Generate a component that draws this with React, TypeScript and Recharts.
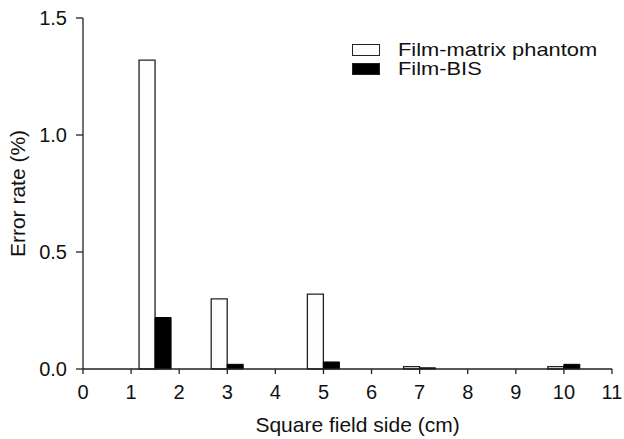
import { BarChart, Bar, XAxis, YAxis, Legend } from "recharts"

// field sides (cm) and error rates (%)
const fieldSides = [1.5, 3, 5, 7, 10]
const matrixPhantom = [1.32, 0.3, 0.32, 0.01, 0.01]
const filmBis = [0.22, 0.02, 0.03, 0.005, 0.02]

const xTicks = [0, 1, 2, 3, 4, 5, 6, 7, 8, 9, 10, 11]
const yTicks = [0, 0.5, 1.0, 1.5]
const seriesOrder = ["phantom", "bis"]

const data = fieldSides.map((side, i) => ({
  side,
  phantom: matrixPhantom[i],
  bis: filmBis[i],
}))

const FONT = "'Liberation Sans', Arial, Helvetica, sans-serif"
const INK = "#222"

// eslint-disable-next-line @typescript-eslint/no-explicit-any
function ChartLegend({ payload }: any) {
  const items = [...(payload ?? [])].sort(
    (a: { dataKey: string }, b: { dataKey: string }) =>
      seriesOrder.indexOf(a.dataKey) - seriesOrder.indexOf(b.dataKey)
  )
  return (
    <div style={{ fontFamily: FONT, fontSize: 19, color: "#111" }}>
      {items.map((p: { value: string; dataKey: string }) => (
        <div
          key={p.value}
          style={{ display: "flex", alignItems: "center", height: 19, lineHeight: "19px" }}
        >
          <span
            style={{
              display: "inline-block",
              width: 28,
              height: 12,
              boxSizing: "border-box",
              border: `1.3px solid ${INK}`,
              background: p.dataKey === "bis" ? "#000" : "#fdfdfd",
              marginRight: 18,
              flex: "none",
            }}
          />
          <span
            style={{
              display: "inline-block",
              transform: "scaleX(1.15)",
              transformOrigin: "left center",
              whiteSpace: "nowrap",
            }}
          >
            {p.value}
          </span>
        </div>
      ))}
    </div>
  )
}

export default function App() {
  return (
    <div style={{ position: "absolute", left: 0, top: 0, width: 624, height: 439, background: "#fff" }}>
      <BarChart
        width={624}
        height={439}
        data={data}
        margin={{ top: 18, right: 12, left: 0, bottom: 0 }}
        barSize={16}
        barGap={0}
      >
        <XAxis
          dataKey="side"
          type="number"
          domain={[0, 11]}
          ticks={xTicks}
          interval={0}
          height={70}
          tickSize={5}
          tickMargin={11}
          axisLine={{ stroke: INK, strokeWidth: 1.3 }}
          tickLine={{ stroke: INK, strokeWidth: 1.3 }}
          tick={{ fill: "#111", fontSize: 20, fontFamily: FONT }}
          label={{
            value: "Square field side (cm)",
            position: "insideBottom",
            offset: 7,
            dx: 10,
            fill: "#111",
            fontSize: 21,
            fontFamily: FONT,
          }}
        />
        <YAxis
          type="number"
          domain={[0, 1.5]}
          ticks={yTicks}
          width={83}
          tickSize={7}
          tickMargin={9}
          tickFormatter={(v: number) => v.toFixed(1)}
          axisLine={{ stroke: INK, strokeWidth: 1.3 }}
          tickLine={{ stroke: INK, strokeWidth: 1.3 }}
          tick={{ fill: "#111", fontSize: 20, fontFamily: FONT }}
          label={{
            value: "Error rate (%)",
            angle: -90,
            position: "insideLeft",
            offset: 18,
            style: { textAnchor: "middle" },
            fill: "#111",
            fontSize: 21,
            fontFamily: FONT,
          }}
        />
        <Legend
          layout="vertical"
          align="center"
          verticalAlign="middle"
          content={<ChartLegend />}
          wrapperStyle={{ left: 352, top: 40, width: 260 }}
        />
        <Bar
          dataKey="phantom"
          name="Film-matrix phantom"
          fill="#fdfdfd"
          stroke={INK}
          strokeWidth={1.3}
          isAnimationActive={false}
        />
        <Bar
          dataKey="bis"
          name="Film-BIS"
          fill="#000"
          stroke="#000"
          strokeWidth={1}
          isAnimationActive={false}
        />
      </BarChart>
    </div>
  )
}
